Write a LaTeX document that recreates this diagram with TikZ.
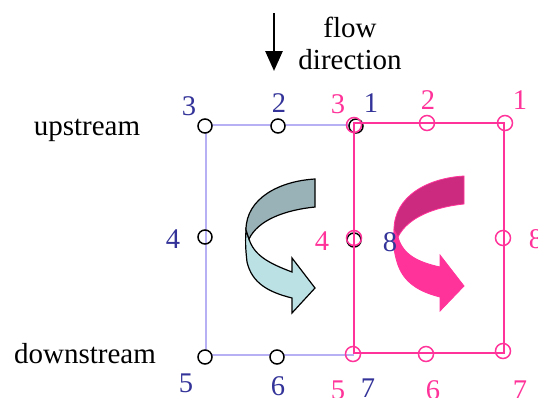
\documentclass[tikz,border=0pt]{standalone}
\usepackage{fontspec}
\setmainfont{Liberation Serif}
\definecolor{bluetxt}{HTML}{333399}
\definecolor{pinkc}{HTML}{FF3399}
\definecolor{lilac}{HTML}{B8B0F4}
\definecolor{arrdark}{HTML}{99B2B7}
\definecolor{arrlight}{HTML}{BCE1E5}
\definecolor{pinkdark}{HTML}{CC2A7F}
\usetikzlibrary{arrows.meta}
\tikzset{
  lab/.style={font=\fontsize{28.5}{30}\selectfont,inner sep=0pt,anchor=center},
  txt/.style={font=\fontsize{29}{30}\selectfont,inner sep=0pt,anchor=center,text=black},
  bl/.style={lab,text=bluetxt},
  pk/.style={lab,text=pinkc},
  opt/.style={circle,draw=black,line width=1.5pt,minimum size=14pt,inner sep=0pt},
  optw/.style={opt,fill=white},
  ppt/.style={circle,draw=pinkc,line width=1.5pt,minimum size=15pt,inner sep=0pt},
  bline/.style={draw=lilac,line width=1.3pt},
  pline/.style={draw=pinkc,line width=1.6pt},
  flowarrow/.style={draw=black,line width=2.8pt,-{Triangle[length=20pt,width=17pt]}}
}
\begin{document}
\begin{tikzpicture}[x=1pt,y=-1pt]
\useasboundingbox (0,0) rectangle (538,397);
% curved arrows
\draw[black,line width=1.2pt,fill=arrlight,line join=miter]
  (246,230) .. controls (245,245) and (246,252) .. (247,262)
  .. controls (252,283) and (268,292) .. (292,298)
  -- (292,313) -- (315,288) -- (292,258) -- (292,272)
  .. controls (268,263) and (254,255) .. (249,239) -- cycle;
\draw[black,line width=1.2pt,fill=arrdark,line join=miter]
  (315,179) -- (315,207)
  .. controls (285,210) and (258,220) .. (249,239)
  -- (246,230)
  .. controls (246,198) and (280,181) .. (315,179) -- cycle;
\draw[pinkc,line width=0.8pt,fill=pinkc,line join=miter]
  (394,230) .. controls (393,245) and (394,252) .. (397,262)
  .. controls (403,283) and (420,292) .. (440,297)
  -- (440,311) -- (464,286) -- (440,255) -- (440,267)
  .. controls (418,262) and (403,255) .. (398,237) -- cycle;
\draw[pinkc,line width=0.8pt,fill=pinkdark,line join=miter]
  (464,176) -- (464,204)
  .. controls (435,207) and (408,217) .. (398,237)
  -- (394,230)
  .. controls (394,196) and (428,178) .. (464,176) -- cycle;
% blue cell
\coordinate (bTL) at (206,125);
\coordinate (bTR) at (354,125);
\coordinate (bBL) at (206,355);
\coordinate (bBR) at (354,355);
\draw[bline] (bTR) -- (bTL) -- (bBL) -- (bBR);
\node[optw] (b3) at (205,126) {};
\node[optw] (b2) at (278,126) {};
\node[optw] (b1) at (356,126) {};
\node[opt]  (b4) at (205,237) {};
\node[opt]  (b8) at (354,240) {};
\node[optw] (b5) at (205,357) {};
\node[optw] (b6) at (277,357) {};
% pink cell
\coordinate (pTL) at (354,123);
\coordinate (pBR) at (504,353);
\draw[pline] (pTL) rectangle (pBR);
\node[ppt] (p3) at (354,125) {};
\node[ppt] (p2) at (427,123) {};
\node[ppt] (p1) at (505,123) {};
\node[ppt] (p4) at (354,238) {};
\node[ppt] (p8) at (503,238) {};
\node[ppt] (p5) at (353,354) {};
\node[ppt] (p6) at (426,354) {};
\node[ppt] (p7) at (503,351) {};
% labels
\node[bl] (l3) at (189,106) {3};
\node[bl] (l2) at (279,103) {2};
\node[bl] (l1) at (371,103) {1};
\node[pk] (m3) at (338,104) {3};
\node[pk] (m2) at (428,100) {2};
\node[pk] (m1) at (520,100) {1};
\node[bl] (l4) at (173,239) {4};
\node[pk] (m4) at (322,241) {4};
\node[bl] (l8) at (390,242) {8};
\node[pk] (m8) at (536,239) {8};
\node[bl] (l5) at (186,383) {5};
\node[bl] (l6) at (278,386) {6};
\node[bl] (l7) at (368,388) {7};
\node[pk] (m5) at (338,390) {5};
\node[pk] (m6) at (433,390) {6};
\node[pk] (m7) at (520,390) {7};
\node[txt] (up) at (87,130) {upstream};
\node[txt] (down) at (85,354) {downstream};
\node[txt] (fl) at (350,27) {flow};
\node[txt] (dir) at (350,60) {direction};
\coordinate (fa) at (274,13);
\coordinate (fb) at (274,71);
\draw[flowarrow] (fa) -- (fb);
\end{tikzpicture}
\end{document}
